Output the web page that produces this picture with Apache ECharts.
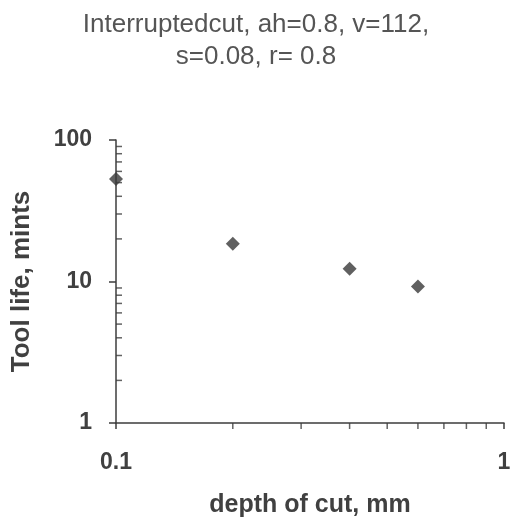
<!DOCTYPE html>
<html>
<head>
<meta charset="utf-8">
<script src="https://cdn.jsdelivr.net/npm/echarts@6/dist/echarts.min.js"></script>
<style>
html,body{margin:0;padding:0;background:#fff;}
#chart{width:512px;height:520px;}
</style>
</head>
<body>
<div id="chart"></div>
<script>
// Data
const depthOfCut = [0.1, 0.2, 0.4, 0.6];
const toolLife = [53, 18.5, 12.3, 9.2];
const titleLines = ['Interruptedcut, ah=0.8, v=112,', 's=0.08, r= 0.8'];
const xAxisName = 'depth of cut, mm';
const yAxisName = 'Tool life, mints';
const xMin = 0.1, xMax = 1;
const yMin = 1, yMax = 100;
const xMinorTicks = [0.2, 0.3, 0.4, 0.5, 0.6, 0.7, 0.8, 0.9];
const yMinorTicks = [2, 3, 4, 5, 6, 7, 8, 9, 20, 30, 40, 50, 60, 70, 80, 90];

const ink = '#3c3c3c';
const font = 'Liberation Sans, Arial, sans-serif';
const chart = echarts.init(document.getElementById('chart'), null, {renderer: 'canvas'});

const points = depthOfCut.map((d, i) => [d, toolLife[i]]);
const xMinorData = xMinorTicks.map(v => [v, yMin]);
const yMinorData = yMinorTicks.map(v => [xMin, v]);

chart.setOption({
  backgroundColor: '#ffffff',
  animation: false,
  title: {
    text: titleLines.join('\n'),
    left: 'center',
    top: 4,
    textStyle: {
      fontFamily: font,
      fontSize: 26,
      fontWeight: 'normal',
      color: '#555555',
      lineHeight: 32
    }
  },
  grid: {left: 116, right: 8, top: 140, bottom: 97, containLabel: false, outerBoundsMode: 'none'},
  xAxis: {
    type: 'log',
    logBase: 10,
    min: xMin,
    max: xMax,
    name: xAxisName,
    nameLocation: 'middle',
    nameGap: 70,
    nameTextStyle: {fontFamily: font, fontSize: 25, fontWeight: 'bold', color: '#404040'},
    axisLine: {show: true, onZero: false, lineStyle: {color: ink, width: 1.5}},
    axisTick: {show: true, inside: false, length: 6, lineStyle: {color: ink, width: 1.5}},
    axisLabel: {margin: 28, fontFamily: font, fontSize: 23, fontWeight: 'bold', color: '#404040',
      formatter: v => String(+v.toPrecision(3))},
    splitLine: {show: false}
  },
  yAxis: {
    type: 'log',
    logBase: 10,
    min: yMin,
    max: yMax,
    name: yAxisName,
    nameLocation: 'middle',
    nameGap: 81,
    nameTextStyle: {fontFamily: font, fontSize: 26, fontWeight: 'bold', color: '#404040'},
    axisLine: {show: true, onZero: false, lineStyle: {color: ink, width: 1.5}},
    axisTick: {show: true, inside: false, length: 7, lineStyle: {color: ink, width: 1.5}},
    axisLabel: {margin: 24, fontFamily: font, fontSize: 23, fontWeight: 'bold', color: '#404040',
      formatter: v => String(+v.toPrecision(3))},
    splitLine: {show: false}
  },
  series: [
    {
      name: 'Tool life',
      type: 'scatter',
      data: points,
      symbol: 'diamond',
      symbolSize: 14,
      itemStyle: {color: '#383838'},
      clip: false,
      z: 5
    },
    {
      name: 'xMinor',
      type: 'scatter',
      data: xMinorData,
      symbol: 'rect',
      symbolSize: [1.5, 6],
      symbolOffset: [0, 3],
      itemStyle: {color: ink},
      clip: false,
      silent: true,
      z: 3
    },
    {
      name: 'yMinor',
      type: 'scatter',
      data: yMinorData,
      symbol: 'rect',
      symbolSize: [6, 1.5],
      symbolOffset: [3, 0],
      itemStyle: {color: ink},
      clip: false,
      silent: true,
      z: 3
    }
  ]
});
</script>
</body>
</html>
